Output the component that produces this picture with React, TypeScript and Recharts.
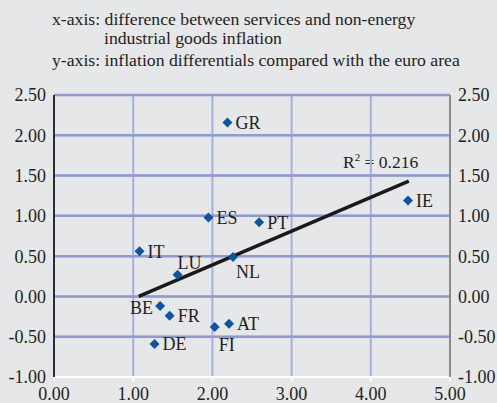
import { ScatterChart, Scatter, XAxis, YAxis, CartesianGrid, ReferenceLine } from 'recharts';

const countries = ['GR', 'ES', 'PT', 'IE', 'IT', 'LU', 'NL', 'BE', 'FR', 'FI', 'AT', 'DE'];
const xValues = [2.19, 1.95, 2.59, 4.47, 1.08, 1.56, 2.26, 1.34, 1.46, 2.03, 2.21, 1.27];
const yValues = [2.16, 0.98, 0.92, 1.19, 0.56, 0.27, 0.49, -0.12, -0.24, -0.38, -0.34, -0.59];

const xTicks = [0, 1, 2, 3, 4, 5];
const yTicks = [-1, -0.5, 0, 0.5, 1, 1.5, 2, 2.5];

// fitted line end points
const trendX = [1.07, 4.48];
const trendY = [0, 1.43];

const points = countries.map((c, i) => ({ name: c, x: xValues[i], y: yValues[i] }));

// where each label sits relative to its marker
const labelPlace: Record<string, { dx: number; dy: number; anchor: string }> = {
  LU: { dx: 12, dy: -12, anchor: 'middle' },
  NL: { dx: 3, dy: 15, anchor: 'start' },
  BE: { dx: -7, dy: 2, anchor: 'end' },
  FI: { dx: 12, dy: 18, anchor: 'middle' },
};

const FONT = '"Liberation Serif", "Times New Roman", serif';
const TEXT = '#231f20';
const GRID = '#a7b0dc';
const fmt = (v: number) => v.toFixed(2);

const Marker = (props: any) => {
  const { cx, cy, payload } = props;
  const p = labelPlace[payload.name] || { dx: 8, dy: 0, anchor: 'start' };
  const r = 5;
  return (
    <g>
      <path d={`M${cx},${cy - r}L${cx + r},${cy}L${cx},${cy + r}L${cx - r},${cy}Z`} fill="#0b56a3" />
      <text
        x={cx + p.dx}
        y={cy + p.dy}
        dy="0.35em"
        textAnchor={p.anchor as any}
        fontFamily={FONT}
        fontSize={18}
        fill={TEXT}
      >
        {payload.name}
      </text>
    </g>
  );
};

const NoDot = () => <g />;

const tickStyle = { fontFamily: FONT, fontSize: 18, fill: TEXT };

export default function App() {
  return (
    <div style={{ position: 'relative', width: 497, height: 403, background: '#e6e7e8' }}>
      <style>{`body{margin:0}`}</style>
      <div style={{ position: 'absolute', left: 52, top: 10, fontFamily: FONT, fontSize: 17.7, color: TEXT, lineHeight: '19px' }}>
        <div>x-axis: difference between services and non-energy</div>
        <div style={{ paddingLeft: 52 }}>industrial goods inflation</div>
        <div style={{ marginTop: 3 }}>y-axis: inflation differentials compared with the euro area</div>
      </div>
      <div style={{ position: 'absolute', left: 343, top: 151, fontFamily: FONT, fontSize: 17.5, color: TEXT }}>
        R<sup style={{ fontSize: 11 }}>2</sup> = 0.216
      </div>
      <ScatterChart width={497} height={403} margin={{ top: 95, right: 2, bottom: 2, left: 4 }}>
        <CartesianGrid yAxisId="left" stroke={GRID} strokeWidth={2} />
        <XAxis
          type="number"
          dataKey="x"
          domain={[0, 5]}
          ticks={xTicks}
          tickFormatter={fmt}
          height={24}
          stroke="#ffffff"
          strokeWidth={2}
          tickSize={4}
          tick={{ ...tickStyle, dy: 4 }}
          interval={0}
        />
        <YAxis
          yAxisId="left"
          type="number"
          dataKey="y"
          domain={[-1, 2.5]}
          ticks={yTicks}
          tickFormatter={fmt}
          width={50}
          stroke="#000000"
          strokeWidth={1.5}
          tickLine={false}
          tick={tickStyle}
          interval={0}
        />
        <YAxis
          yAxisId="right"
          orientation="right"
          type="number"
          dataKey="y"
          domain={[-1, 2.5]}
          ticks={yTicks}
          tickFormatter={fmt}
          width={45}
          stroke="#8a8a8a"
          strokeWidth={2}
          tickLine={false}
          tick={tickStyle}
          interval={0}
        />
        {yTicks.slice(1).map((t) => (
          <ReferenceLine key={t} yAxisId="left" y={t} stroke="#8f99d2" strokeWidth={2.5} />
        ))}
        <ReferenceLine
          yAxisId="left"
          segment={[
            { x: trendX[0], y: trendY[0] },
            { x: trendX[1], y: trendY[1] },
          ]}
          stroke="#1a1a1a"
          strokeWidth={3.5}
        />
        <Scatter yAxisId="right" data={points} shape={NoDot} isAnimationActive={false} />
        <Scatter yAxisId="left" data={points} shape={<Marker />} isAnimationActive={false} />
      </ScatterChart>
    </div>
  );
}
